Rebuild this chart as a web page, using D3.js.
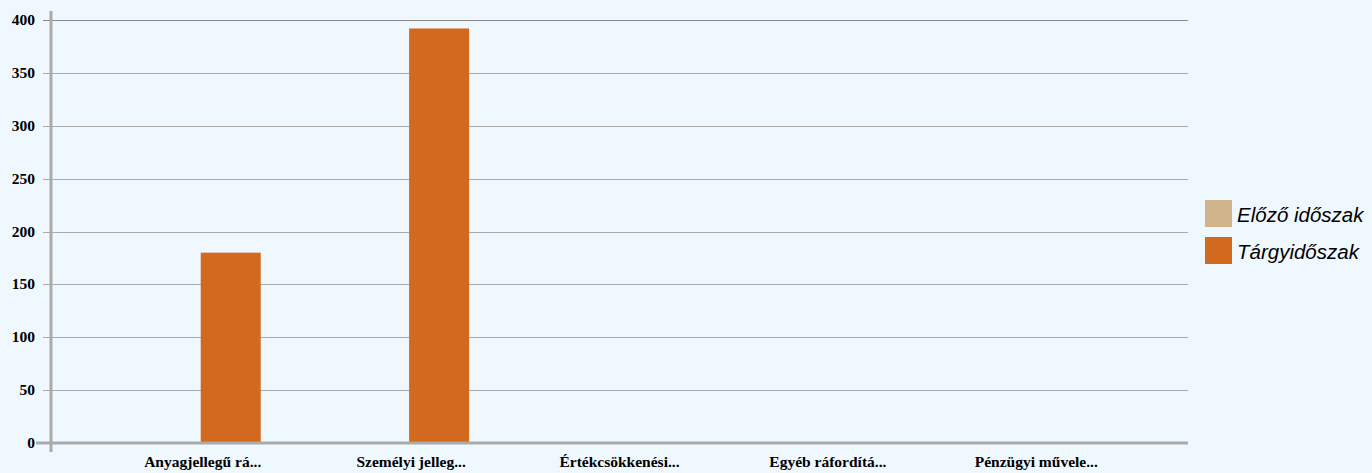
<!DOCTYPE html>
<html>
<head>
<meta charset="utf-8">
<script src="https://cdn.jsdelivr.net/npm/d3@7"></script>
<style>
  body { margin: 0; background: #f0f8ff; }
  svg { display: block; }
</style>
</head>
<body>
<script>
var width = 1372;
var height = 473;

// data
var categories = ["Anyagjellegű rá...", "Személyi jelleg...", "Értékcsökkenési...", "Egyéb ráfordítá...", "Pénzügyi művele..."];
var seriesNames = ["Előző időszak", "Tárgyidőszak"];
var elozo = [0, 0, 0, 0, 0];
var targy = [180, 392, 0, 0, 0];
var yTicks = [0, 50, 100, 150, 200, 250, 300, 350, 400];
var colors = ["#d2b48c", "#d2691e"];

var plotLeft = 51, plotRight = 1188, plotTop = 20, plotBottom = 443;

var svg = d3.select("body").append("svg")
    .attr("width", width)
    .attr("height", height);

svg.append("rect")
    .attr("width", width)
    .attr("height", height)
    .attr("fill", "#f0f8ff");

var y = d3.scaleLinear().domain([0, 400]).range([plotBottom, plotTop]);
var x = d3.scaleBand().domain(categories).range([plotLeft, plotRight])
    .paddingInner(0).paddingOuter(0.228);
var xs = d3.scaleBand().domain(seriesNames).range([-62, 58]);

//*********** grid lines *******************
svg.append("g").selectAll("line")
    .data(yTicks.filter(function(d) { return d > 0; }))
    .enter().append("line")
    .attr("x1", 43)
    .attr("x2", plotRight)
    .attr("y1", function(d) { return Math.round(y(d)) + 0.5; })
    .attr("y2", function(d) { return Math.round(y(d)) + 0.5; })
    .attr("stroke", function(d) { return d == 400 ? "#888" : "#aaa"; })
    .attr("stroke-width", 1);

// y tick labels
svg.append("g").selectAll("text")
    .data(yTicks)
    .enter().append("text")
    .attr("x", 35)
    .attr("y", function(d) { return y(d) + 5; })
    .attr("text-anchor", "end")
    .attr("font-family", "Liberation Serif, serif")
    .attr("font-weight", "bold")
    .style("font-size", "15.5px")
    .attr("fill", "#000")
    .text(function(d) { return d; });

//*********** bars *******************
var rows = categories.map(function(c, i) {
    return [{ cat: c, s: seriesNames[0], v: elozo[i] }, { cat: c, s: seriesNames[1], v: targy[i] }];
});

svg.append("g").selectAll("g")
    .data(rows)
    .enter().append("g")
    .attr("transform", function(d) { return "translate(" + (x(d[0].cat) + x.bandwidth() / 2) + ",0)"; })
    .selectAll("rect")
    .data(function(d) { return d.filter(function(e) { return e.v > 0; }); })
    .enter().append("rect")
    .attr("x", function(d) { return xs(d.s); })
    .attr("width", xs.bandwidth())
    .attr("y", function(d) { return y(d.v); })
    .attr("height", function(d) { return plotBottom - y(d.v); })
    .attr("fill", function(d) { return colors[seriesNames.indexOf(d.s)]; });

// axes lines
svg.append("line")
    .attr("x1", 36).attr("x2", plotRight)
    .attr("y1", plotBottom).attr("y2", plotBottom)
    .attr("stroke", "#aaa")
    .attr("stroke-width", 3);

svg.append("line")
    .attr("x1", plotLeft).attr("x2", plotLeft)
    .attr("y1", 11).attr("y2", 452)
    .attr("stroke", "#aaa")
    .attr("stroke-width", 3);

// x labels
svg.append("g").selectAll("text")
    .data(categories)
    .enter().append("text")
    .attr("x", function(d) { return x(d) + x.bandwidth() / 2; })
    .attr("y", 467)
    .attr("text-anchor", "middle")
    .attr("font-family", "Liberation Serif, serif")
    .attr("font-weight", "bold")
    .style("font-size", "15.5px")
    .attr("fill", "#000")
    .text(function(d) { return d; });

//*********** legend *******************
var legend = svg.append("g").selectAll("g")
    .data(seriesNames)
    .enter().append("g")
    .attr("transform", function(d, i) { return "translate(1205," + (200 + i * 37) + ")"; });

legend.append("rect")
    .attr("width", 27)
    .attr("height", 27)
    .attr("fill", function(d, i) { return colors[i]; });

legend.append("text")
    .attr("x", 32)
    .attr("y", 21.5)
    .attr("font-family", "Liberation Sans, Arial, sans-serif")
    .attr("font-style", "italic")
    .style("font-size", "20.5px")
    .attr("fill", "#000")
    .text(function(d) { return d; });
</script>
</body>
</html>
